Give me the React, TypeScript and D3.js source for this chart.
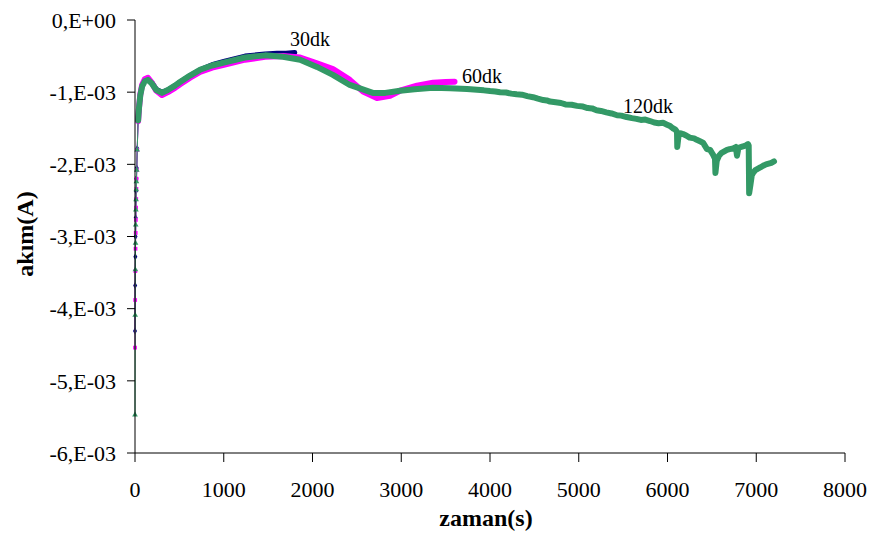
import * as d3 from "d3";

// time (s) and current (x1e-3 A) for each run
const t30 = [0, 2, 4, 6, 8, 10, 12, 15, 20, 25, 35, 45, 60, 80, 110, 146, 190, 240, 304, 370, 450, 507, 620, 732, 868, 1000, 1240, 1465, 1600, 1700, 1800];
const v30 = [-4.31, -3.68, -3.28, -3.0, -2.74, -2.49, -2.37, -2.2, -2.05, -1.78, -1.38, -1.21, -1.03, -0.91, -0.84, -0.82, -0.87, -0.96, -1.0, -0.97, -0.91, -0.86, -0.77, -0.69, -0.62, -0.575, -0.5, -0.47, -0.46, -0.46, -0.45];

const t60 = [0, 2, 4, 6, 8, 10, 12, 14, 16, 18, 20, 25, 35, 45, 60, 80, 110, 146, 190, 240, 304, 370, 450, 507, 620, 732, 868, 1000, 1240, 1465, 1668, 1860, 2050, 2230, 2420, 2570, 2727, 2873, 2986, 3178, 3358, 3500, 3600];
const v60 = [-4.54, -3.88, -3.48, -3.17, -2.95, -2.77, -2.6, -2.48, -2.34, -2.2, -2.08, -1.8, -1.4, -1.22, -1.03, -0.9, -0.82, -0.8, -0.87, -0.98, -1.04, -1.0, -0.94, -0.89, -0.8, -0.72, -0.66, -0.62, -0.55, -0.51, -0.5, -0.52, -0.6, -0.68, -0.83, -0.99, -1.08, -1.05, -0.98, -0.91, -0.87, -0.86, -0.855];

const t120 = [0, 2, 4, 6, 8, 10, 12, 14, 16, 20, 25, 35, 45, 60, 80, 110, 146, 190, 240, 304, 370, 450, 507, 620, 732, 868, 1000, 1240, 1465, 1668, 1860, 2050, 2230, 2420, 2680, 2820, 2986, 3150, 3358, 3550, 3741, 3930,
  4000, 4060, 4113, 4180, 4240, 4300, 4360, 4420, 4485, 4540, 4600, 4640, 4676, 4740, 4800, 4850, 4920, 4980, 5048, 5100, 5150, 5200, 5250, 5310, 5370, 5431, 5480, 5540, 5600, 5650, 5700, 5750, 5803, 5850, 5900, 5950, 5995,
  6030, 6060, 6090, 6107, 6110, 6125, 6150, 6175, 6210, 6250, 6300, 6330, 6366, 6400, 6445, 6480, 6510, 6535, 6540, 6555, 6580, 6610, 6640, 6670, 6700, 6740, 6770, 6783, 6800, 6850, 6880, 6907, 6915, 6920, 6935, 6950, 6964, 6990, 7020, 7050, 7077, 7110, 7140, 7170, 7200];
const v120 = [-5.47, -4.09, -3.46, -3.09, -2.84, -2.63, -2.49, -2.35, -2.24, -2.08, -1.8, -1.39, -1.22, -1.04, -0.92, -0.85, -0.83, -0.88, -0.97, -1.01, -0.97, -0.91, -0.86, -0.77, -0.69, -0.63, -0.59, -0.52, -0.49, -0.51, -0.55, -0.65, -0.76, -0.9, -1.01, -1.01, -0.98, -0.96, -0.94, -0.945, -0.955, -0.975,
  -0.985, -0.99, -1.0, -1.005, -1.02, -1.03, -1.035, -1.055, -1.07, -1.09, -1.11, -1.115, -1.13, -1.14, -1.15, -1.17, -1.175, -1.19, -1.2, -1.22, -1.225, -1.25, -1.26, -1.28, -1.295, -1.32, -1.325, -1.345, -1.36, -1.37, -1.385, -1.38, -1.4, -1.42, -1.43, -1.425, -1.45,
  -1.47, -1.5, -1.52, -1.55, -1.76, -1.6, -1.57, -1.58, -1.6, -1.63, -1.64, -1.66, -1.68, -1.7, -1.79, -1.8, -1.86, -1.92, -2.12, -1.95, -1.88, -1.84, -1.82, -1.8, -1.79, -1.78, -1.76, -1.88, -1.77, -1.75, -1.74, -1.72, -1.74, -2.4, -2.28, -2.15, -2.12, -2.08, -2.06, -2.04, -2.02, -2.0, -1.99, -1.98, -1.96];

const xTicks = [0, 1000, 2000, 3000, 4000, 5000, 6000, 7000, 8000];
const yTicks = [0, -1, -2, -3, -4, -5, -6];

const W = 873;
const H = 534;
const x = d3.scaleLinear().domain([0, 8000]).range([135, 845]);
const y = d3.scaleLinear().domain([-6, 0]).range([453, 20]);

const fmtY = (v: number) => (v === 0 ? "0,E+00" : `${v},E-03`);

const series = [
  { name: "30dk", t: t30, v: v30, color: "#000080", symbol: d3.symbolDiamond, width: 5, lx: 290, ly: 46 },
  { name: "60dk", t: t60, v: v60, color: "#FF00FF", symbol: d3.symbolSquare, width: 6, lx: 462, ly: 83 },
  { name: "120dk", t: t120, v: v120, color: "#339966", symbol: d3.symbolTriangle, width: 6, lx: 623, ly: 113 },
];

const serif = { fontFamily: '"Liberation Serif", "DejaVu Serif", serif' };

export default function App() {
  const line = d3
    .line<[number, number]>()
    .x((d) => x(d[0]))
    .y((d) => y(d[1]));

  return (
    <svg
      width={W}
      height={H}
      style={{ position: "absolute", left: 0, top: 0, background: "#fff" }}
    >
      {/* series */}
      {series.map((s) => {
        const pts = s.t.map((t, i) => [t, s.v[i]] as [number, number]);
        const dense = pts.filter((p) => p[0] >= 35);
        const sparse = pts.filter((p) => p[0] <= 25);
        return (
          <g key={s.name}>
            <path d={line(pts) || ""} fill="none" stroke={s.color} strokeWidth={1} />
            <path
              d={line(dense) || ""}
              fill="none"
              stroke={s.color}
              strokeWidth={s.width}
              strokeLinejoin="round"
              strokeLinecap="round"
            />
            {sparse.map((p, i) => (
              <path
                key={i}
                transform={`translate(${x(p[0])},${y(p[1])})`}
                d={d3.symbol(s.symbol, 14)() || ""}
                fill={s.color}
              />
            ))}
          </g>
        );
      })}

      {/* axes */}
      <line x1={135} x2={135} y1={20} y2={453} stroke="#000" />
      <line x1={135} x2={845} y1={453} y2={453} stroke="#000" />
      {yTicks.map((v) => (
        <g key={v}>
          <line x1={127} x2={135} y1={y(v)} y2={y(v)} stroke="#000" />
          <text x={116} y={y(v)} dy="0.35em" textAnchor="end" fontSize={22} style={serif}>
            {fmtY(v)}
          </text>
        </g>
      ))}
      {xTicks.map((t) => (
        <g key={t}>
          <line x1={x(t)} x2={x(t)} y1={453} y2={462} stroke="#000" />
          <text x={x(t)} y={497} textAnchor="middle" fontSize={22} style={serif}>
            {t}
          </text>
        </g>
      ))}

      {/* titles */}
      <text x={486} y={526} textAnchor="middle" fontSize={24} fontWeight="bold" style={serif}>
        zaman(s)
      </text>
      <text
        transform="translate(33,234) rotate(-90)"
        textAnchor="middle"
        fontSize={24}
        fontWeight="bold"
        style={serif}
      >
        akım(A)
      </text>

      {/* run labels */}
      {series.map((s) => (
        <text key={s.name} x={s.lx} y={s.ly} fontSize={20} style={serif}>
          {s.name}
        </text>
      ))}
    </svg>
  );
}
